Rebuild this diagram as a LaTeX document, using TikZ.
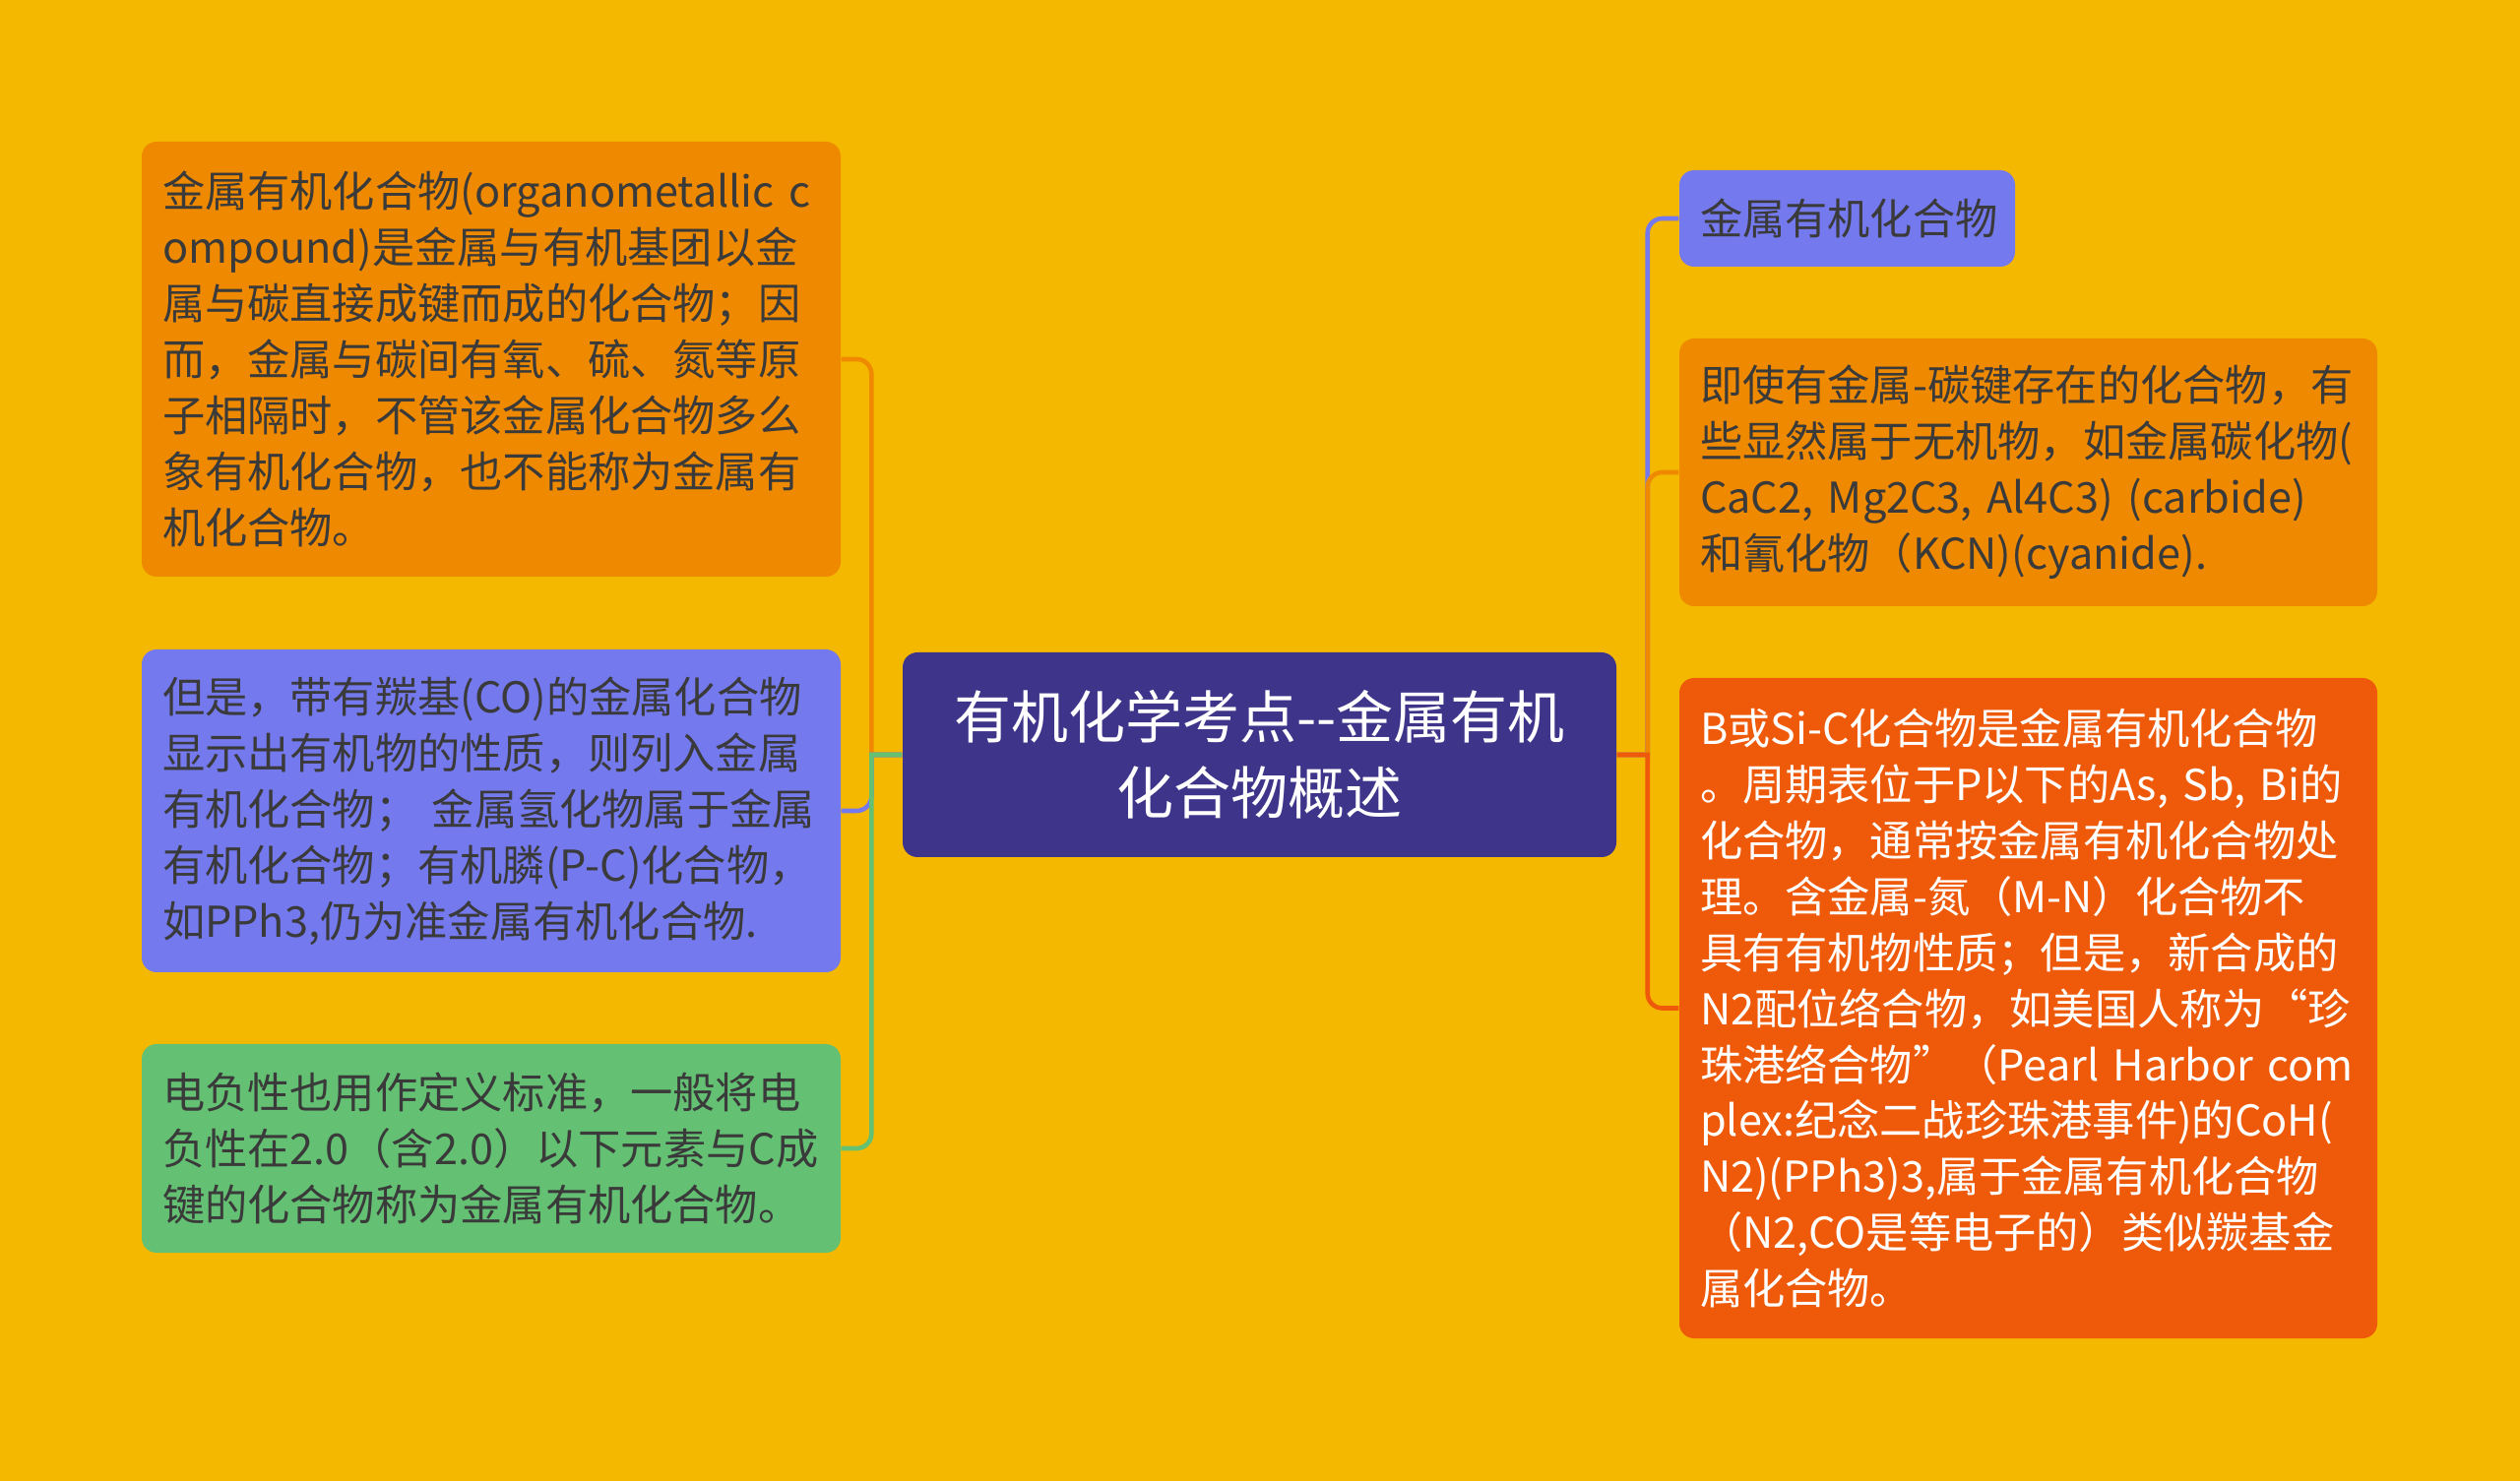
\documentclass[tikz,border=0pt]{standalone}
\usepackage{fontspec}
\setmainfont{Noto Sans CJK SC}
\definecolor{bgyellow}{HTML}{F5B800}
\definecolor{boxorange}{HTML}{EF8A00}
\definecolor{boxblue}{HTML}{7479ED}
\definecolor{boxgreen}{HTML}{64C173}
\definecolor{boxred}{HTML}{EE5A0A}
\definecolor{boxnavy}{HTML}{3E358A}
\definecolor{txtdark}{HTML}{3A3A3A}
\tikzset{
  leaf/.style={rounded corners=0.15cm, inner xsep=0.21cm, inner ysep=0pt, align=left, text=txtdark, font=\fontsize{12.3}{16.2}\selectfont},
  link/.style={line width=1.3pt}
}
\begin{document}
\begin{tikzpicture}
        \fill[bgyellow] (0,0) rectangle (25.6,-15.05);
        \node[rounded corners=0.15cm, fill=boxnavy, text=white, align=center, minimum width=7.25cm, minimum height=2.08cm, text width=7.1cm, inner sep=0pt, font=\fontsize{16.5}{21.9}\selectfont] (topic) at (12.795,-7.67) {有机化学考点-{}-金属有机\\化合物概述};
        \node[leaf, fill=boxorange, text width=6.68cm, minimum height=4.42cm] (defn) at (4.99,-3.65) {\mbox{金属有机化合物(organometallic c}\\ompound)是金属与有机基团以金\\属与碳直接成键而成的化合物；因\\而，金属与碳间有氧、硫、氮等原\\子相隔时，不管该金属化合物多么\\象有机化合物，也不能称为金属有\\机化合物。};
        \node[leaf, fill=boxblue, text width=6.68cm, minimum height=3.28cm] (carbonyl) at (4.99,-8.24) {但是，带有羰基(CO)的金属化合物\\显示出有机物的性质，则列入金属\\\mbox{有机化合物； 金属氢化物属于金属}\\有机化合物；有机膦(P-C)化合物，\\如PPh3,仍为准金属有机化合物.};
        \node[leaf, fill=boxgreen, text width=6.68cm, minimum height=2.12cm] (electro) at (4.99,-11.67) {电负性也用作定义标准，一般将电\\负性在2.0（含2.0）以下元素与C成\\键的化合物称为金属有机化合物。};
        \node[leaf, fill=boxblue, text width=2.99cm, minimum height=0.98cm] (label) at (18.765,-2.22) {金属有机化合物};
        \node[leaf, fill=boxorange, text width=6.67cm, minimum height=2.72cm] (inorg) at (20.605,-4.80) {即使有金属-碳键存在的化合物，有\\些显然属于无机物，如金属碳化物(\\\mbox{CaC2, Mg2C3, Al4C3) (carbide)}\\和氰化物（KCN)(cyanide).};
        \node[leaf, fill=boxred, text=white, text width=6.67cm, minimum height=6.71cm] (boron) at (20.605,-10.245) {B或Si-C化合物是金属有机化合物\\\mbox{。周期表位于P以下的As, Sb, Bi的}\\化合物，通常按金属有机化合物处\\理。含金属-氮（M-N）化合物不\\具有有机物性质；但是，新合成的\\N2配位络合物，如美国人称为“珍\\\mbox{珠港络合物”（Pearl Harbor com}\\plex:纪念二战珍珠港事件)的CoH(\\N2)(PPh3)3,属于金属有机化合物\\（N2,CO是等电子的）类似羰基金\\属化合物。};
        \coordinate (lspine) at ([xshift=-0.31cm]topic.west);
        \coordinate (rspine) at ([xshift=0.31cm]topic.east);
        \draw[link, boxorange] (topic.west) -- (lspine) [rounded corners=0.15cm] |- (defn.east);
        \draw[link, boxblue] (topic.west) -- (lspine) [rounded corners=0.15cm] |- (carbonyl.east);
        \draw[link, boxgreen] (topic.west) -- (lspine) [rounded corners=0.15cm] |- (electro.east);
        \draw[link, boxblue] (topic.east) -- (rspine) [rounded corners=0.15cm] |- (label.west);
        \draw[link, boxorange] (topic.east) -- (rspine) [rounded corners=0.15cm] |- (inorg.west);
        \draw[link, boxred] (topic.east) -- (rspine) [rounded corners=0.15cm] |- (boron.west);
\end{tikzpicture}
\end{document}
